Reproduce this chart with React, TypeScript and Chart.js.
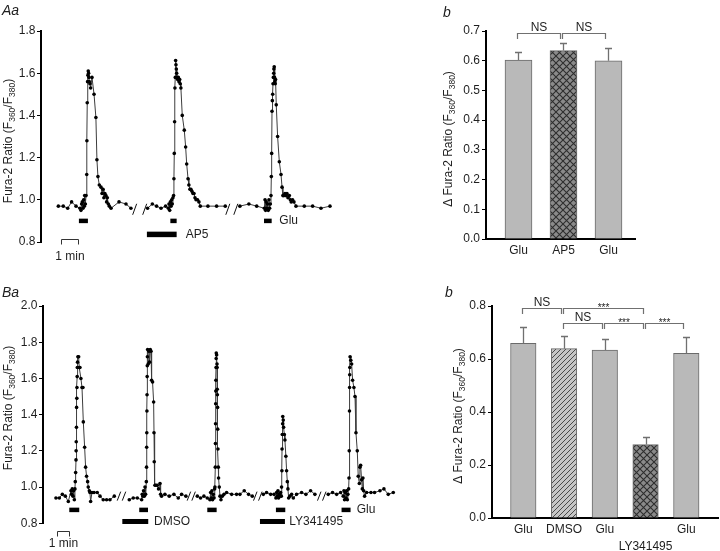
import React, { useEffect, useRef } from 'react';
import { Chart, registerables } from 'chart.js';

Chart.register(...registerables);

const FONT = '"Liberation Sans", Arial, Helvetica, sans-serif';
const INK = '#1e1e1e';
const SCALE_BAR_MIN = 1;

// ---------- Panel Aa : Fura-2 ratio trace (time in min, null = axis break)
const aaTime = [
  0.08, 0.37, 0.63, 0.86, 1.12, 1.35, 1.41, 1.45, 1.49, 1.53, 1.57, 1.61, 1.63, 1.67, 1.71, 1.75, 1.76, 1.78, 1.80, 1.82,
  1.84, 1.86, 1.88, 1.90, 1.94, 1.98, 2.06, 2.18, 2.29, 2.35, 2.41, 2.49, 2.59, 2.65, 2.71, 2.76, 2.82, 2.88, 2.92, 2.96,
  3.02, 3.08, 3.18, 3.65, 4.06, 4.35,
  4.8,
  5.33, 5.61, 5.86, 6.12, 6.39, 6.55, 6.59, 6.63, 6.67, 6.71, 6.75, 6.78, 6.82, 6.86, 6.88, 6.90, 6.92, 6.94, 6.96, 6.98,
  7.00, 7.02, 7.04, 7.06, 7.10, 7.14, 7.18, 7.22, 7.25, 7.29, 7.37, 7.49, 7.57, 7.63, 7.71, 7.76, 7.82, 7.88, 7.94, 8.00,
  8.06, 8.12, 8.18, 8.27, 8.35, 8.43, 8.88, 9.39, 9.90,
  10.3,
  10.76, 11.29, 11.75, 12.20, 12.24, 12.27, 12.31, 12.35, 12.39, 12.43, 12.47, 12.51, 12.55, 12.59, 12.61, 12.63, 12.65,
  12.67, 12.69, 12.71, 12.73, 12.75, 12.76, 12.78, 12.80, 12.82, 12.84, 12.86, 12.90, 12.98, 13.08, 13.18, 13.24, 13.29,
  13.35, 13.41, 13.47, 13.53, 13.59, 13.67, 13.73, 13.78, 13.86, 13.94, 14.06, 14.55, 15.04, 15.53, 16.06,
];
const aaRatio = [
  0.97, 0.97, 0.96, 0.99, 0.97, 0.96, 0.95, 0.98, 0.99, 0.96, 1.00, 0.97, 1.02, 0.98, 1.02, 1.12, 1.28, 1.46, 1.56, 1.59,
  1.61, 1.60, 1.58, 1.56, 1.55, 1.53, 1.58, 1.50, 1.39, 1.19, 1.11, 1.07, 1.06, 1.03, 1.05, 1.01, 1.03, 1.02, 0.99, 1.01,
  0.98, 0.97, 0.96, 0.99, 0.98, 0.96,
  null,
  0.96, 0.98, 0.97, 0.96, 0.97, 0.96, 0.98, 0.95, 0.99, 0.97, 1.00, 0.98, 1.01, 1.02, 1.10, 1.22, 1.37, 1.53, 1.58, 1.66,
  1.64, 1.62, 1.60, 1.58, 1.57, 1.58, 1.56, 1.57, 1.55, 1.53, 1.40, 1.33, 1.25, 1.17, 1.10, 1.07, 1.05, 1.05, 1.04, 1.03,
  1.03, 1.01, 1.00, 1.00, 0.99, 0.97, 0.97, 0.97, 0.97,
  null,
  0.97, 0.98, 0.97, 0.96, 1.00, 0.95, 0.99, 0.96, 0.98, 0.95, 1.00, 0.96, 0.98, 1.02, 1.11, 1.22, 1.42,
  1.47, 1.50, 1.55, 1.58, 1.60, 1.62, 1.63, 1.58, 1.56, 1.55, 1.57, 1.45, 1.30, 1.18, 1.12, 1.06, 1.02,
  1.02, 1.03, 1.02, 1.03, 1.01, 1.02, 1.00, 0.99, 1.00, 0.99, 0.97, 0.97, 0.97, 0.96, 0.97,
];
const aaBreaks = [4.57, 5.16, 10.05, 10.52];
const aaGluOn = [1.29, 6.67, 12.18];
const aaGluOff = [1.82, 7.04, 12.63];
const aaAp5 = [5.29, 7.04];

// ---------- Panel Ab : mean peak amplitude
const abLabels = ['Glu', 'AP5', 'Glu'];
const abMean = [0.602, 0.634, 0.6];
const abSem = [0.028, 0.024, 0.043];
const abBracketFrom = [0, 1];
const abBracketTo = [1, 2];
const abBracketLevel = [0.694, 0.694];
const abBracketText = ['NS', 'NS'];

// ---------- Panel Ba : Fura-2 ratio trace
const baTime = [
  -0.11, 0.17, 0.42, 0.67, 0.92, 1.14, 1.19, 1.25, 1.31, 1.36, 1.42, 1.47, 1.50, 1.53, 1.56, 1.57, 1.58, 1.60, 1.61, 1.63,
  1.64, 1.66, 1.67, 1.69, 1.72, 1.78, 1.83, 1.89, 1.97, 2.06, 2.14, 2.17, 2.28, 2.36, 2.44, 2.53, 2.58, 2.67, 2.72, 2.78,
  2.89, 3.06, 3.33, 3.56, 3.83, 4.11, 4.39, 4.75,
  5.35,
  6.00, 6.33, 6.67, 7.03, 7.08, 7.14, 7.19, 7.25, 7.31, 7.36, 7.42, 7.44, 7.45, 7.46, 7.47, 7.48, 7.49, 7.50, 7.51, 7.53,
  7.58, 7.64, 7.69, 7.75, 7.81, 7.86, 7.94, 8.03, 8.06, 8.08, 8.14, 8.22, 8.33, 8.44, 8.56, 8.61, 8.69, 8.97, 9.33, 9.72,
  10.08, 10.36, 10.72,
  11.15,
  11.67, 11.94, 12.22, 12.50, 12.72, 12.78, 12.83, 12.89, 12.94, 13.00, 13.06, 13.11, 13.14, 13.17, 13.18, 13.19, 13.20,
  13.21, 13.22, 13.23, 13.24, 13.25, 13.28, 13.31, 13.32, 13.33, 13.34, 13.36, 13.37, 13.39, 13.42, 13.44, 13.50, 13.56,
  13.64, 13.75, 13.89, 14.11, 14.53, 14.94, 15.22, 15.58, 15.94, 16.25,
  16.7,
  17.17, 17.44, 17.78, 18.06, 18.22, 18.28, 18.33, 18.39, 18.44, 18.50, 18.56, 18.61, 18.67, 18.69, 18.72, 18.73, 18.75,
  18.78, 18.79, 18.83, 18.86, 18.92, 18.97, 19.05, 19.11, 19.17, 19.22, 19.28, 19.39, 19.53, 19.67, 19.94, 20.36, 20.72,
  21.11, 21.47,
  22.0,
  22.58, 22.94, 23.28, 23.61, 23.83, 23.89, 23.94, 24.00, 24.06, 24.11, 24.17, 24.22, 24.28, 24.31, 24.33, 24.35, 24.36,
  24.37, 24.38, 24.40, 24.46, 24.53, 24.61, 24.72, 24.81, 24.89, 25.00, 25.08, 25.17, 25.22, 25.28, 25.36, 25.42, 25.47,
  25.53, 25.61, 25.78, 26.14, 26.44, 26.89, 27.22, 27.58, 28.00,
];
const baRatio = [
  0.94, 0.94, 0.96, 0.95, 0.92, 0.98, 0.96, 0.99, 0.95, 0.98, 0.93, 0.99, 1.03, 1.08, 1.15, 1.20, 1.25, 1.33, 1.44, 1.49,
  1.55, 1.61, 1.66, 1.69, 1.72, 1.72, 1.66, 1.66, 1.60, 1.55, 1.55, 1.36, 1.22, 1.11, 1.06, 1.03, 1.00, 0.98, 0.97, 0.92,
  0.97, 0.97, 0.97, 0.95, 0.93, 0.93, 0.93, 0.95,
  null,
  0.93, 0.94, 0.94, 0.93, 0.96, 0.95, 0.98, 0.95, 1.00, 0.96, 1.03, 1.11, 1.22, 1.30, 1.42, 1.51, 1.61, 1.67, 1.72, 1.76,
  1.68, 1.75, 1.69, 1.76, 1.75, 1.59, 1.58, 1.47, 1.30, 1.14, 1.01, 1.01, 1.01, 0.99, 1.02, 0.96, 0.95, 0.96, 0.95, 0.96,
  0.94, 0.96, 0.95,
  null,
  0.95, 0.94, 0.95, 0.94, 0.93, 0.97, 0.94, 0.98, 0.93, 0.96, 0.94, 0.99, 1.00, 1.11, 1.24, 1.35, 1.46,
  1.53, 1.59, 1.66, 1.71, 1.74, 1.73, 1.68, 1.66, 1.54, 1.51, 1.44, 1.32, 1.21, 1.11, 1.05, 1.00, 0.95,
  0.93, 0.95, 0.96, 0.97, 0.96, 0.96, 0.96, 0.98, 0.96, 0.95,
  null,
  0.96, 0.97, 0.96, 0.96, 0.94, 0.97, 0.95, 0.98, 0.94, 0.96, 0.95, 0.97, 0.95, 1.00, 1.09, 1.21, 1.29,
  1.35, 1.39, 1.37, 1.33, 1.29, 1.26, 1.17, 1.09, 1.03, 0.99, 0.94, 0.95, 0.96, 0.94, 0.96, 0.97, 0.96,
  0.98, 0.96,
  null,
  0.96, 0.97, 0.96, 0.97, 0.95, 0.98, 0.93, 0.97, 0.94, 0.98, 0.93, 0.96, 0.99, 1.05, 1.20, 1.42, 1.55,
  1.62, 1.66, 1.72, 1.70, 1.68, 1.59, 1.55, 1.50, 1.30, 1.20, 1.06, 1.02, 1.11, 1.12, 1.04, 0.99, 1.05,
  0.98, 0.95, 0.97, 0.97, 0.97, 0.98, 0.99, 0.96, 0.97,
];
const baBreaks = [5.14, 5.56, 10.97, 11.36, 16.5, 16.92, 21.83, 22.25];
const baGluOn = [1.0, 6.83, 12.5, 18.22, 23.69];
const baGluOff = [1.83, 7.56, 13.28, 19.0, 24.44];
const baDmso = [5.42, 7.58];
const baLy = [16.89, 18.97];

// ---------- Panel Bb : mean peak amplitude
const bbLabels = [['Glu'], ['DMSO'], ['Glu'], ['', 'LY341495'], ['Glu']];
const bbMean = [0.659, 0.639, 0.634, 0.277, 0.621];
const bbSem = [0.063, 0.049, 0.041, 0.03, 0.061];
const bbBracketFrom = [0, 1, 1, 2, 3];
const bbBracketTo = [1, 3, 2, 3, 4];
const bbBracketLevel = [0.794, 0.794, 0.737, 0.737, 0.737];
const bbBracketText = ['NS', '***', 'NS', '***', '***'];

// ---------- helpers
function drawYTitle(ctx: CanvasRenderingContext2D, cx: number, cy: number, delta: boolean) {
  const size = 12;
  const sub = 8.5;
  const parts = [
    { t: (delta ? '\u0394 ' : '') + 'Fura-2 Ratio (F', s: false },
    { t: '360', s: true },
    { t: '/F', s: false },
    { t: '380', s: true },
    { t: ')', s: false },
  ];
  ctx.save();
  ctx.translate(cx, cy);
  ctx.rotate(-Math.PI / 2);
  let total = 0;
  const w = parts.map((p) => {
    ctx.font = `${p.s ? sub : size}px ${FONT}`;
    const m = ctx.measureText(p.t).width;
    total += m;
    return m;
  });
  let x = -total / 2;
  ctx.fillStyle = INK;
  ctx.textBaseline = 'alphabetic';
  ctx.textAlign = 'left';
  parts.forEach((p, i) => {
    ctx.font = `${p.s ? sub : size}px ${FONT}`;
    ctx.fillText(p.t, x, p.s ? 7 : 4.3);
    x += w[i];
  });
  ctx.restore();
}

function drawPanelLabel(ctx: CanvasRenderingContext2D, text: string, x: number, y: number) {
  ctx.save();
  ctx.font = `italic 14px ${FONT}`;
  ctx.fillStyle = INK;
  ctx.textAlign = 'left';
  ctx.textBaseline = 'alphabetic';
  ctx.fillText(text, x, y);
  ctx.restore();
}

function makePatternCross() {
  const s = 7;
  const c = document.createElement('canvas');
  c.width = s;
  c.height = s;
  const g = c.getContext('2d')!;
  g.fillStyle = '#8a8a8a';
  g.fillRect(0, 0, s, s);
  g.strokeStyle = '#2e2e2e';
  g.lineWidth = 1.1;
  g.beginPath();
  g.moveTo(0, 0);
  g.lineTo(s, s);
  g.moveTo(s, 0);
  g.lineTo(0, s);
  g.stroke();
  return g.createPattern(c, 'repeat')!;
}

function makePatternDiag() {
  const s = 5;
  const c = document.createElement('canvas');
  c.width = s;
  c.height = s;
  const g = c.getContext('2d')!;
  g.fillStyle = '#c6c6c6';
  g.fillRect(0, 0, s, s);
  g.strokeStyle = '#4a4a4a';
  g.lineWidth = 1;
  g.beginPath();
  for (const o of [-s, 0, s]) {
    g.moveTo(o - 1, s + 1);
    g.lineTo(o + s + 1, -1);
  }
  g.stroke();
  return g.createPattern(c, 'repeat')!;
}

type Stim = { on: number; off: number; level: number; thick: number };
type TraceAnno = {
  id: string;
  breaks: number[];
  breakLevel: number;
  slashW: number;
  slashH: number;
  bars: Stim[];
  labels: { text: string; t: number; level: number }[];
  scaleStart: number;
  scaleLevel: number;
  scaleTextGap: number;
  titleX: number;
  titleY: number;
  panel: string;
  panelX: number;
  panelY: number;
};

function tracePlugin(a: TraceAnno) {
  return {
    id: a.id,
    afterDraw(chart: any) {
      const ctx: CanvasRenderingContext2D = chart.ctx;
      const xs = chart.scales.x;
      const ys = chart.scales.y;
      ctx.save();
      ctx.strokeStyle = '#111';
      ctx.lineWidth = 1;
      for (const b of a.breaks) {
        const px = xs.getPixelForValue(b);
        const py = ys.getPixelForValue(a.breakLevel);
        ctx.beginPath();
        ctx.moveTo(px - a.slashW / 2, py + a.slashH / 2);
        ctx.lineTo(px + a.slashW / 2, py - a.slashH / 2);
        ctx.stroke();
      }
      ctx.fillStyle = '#000';
      for (const s of a.bars) {
        const x0 = xs.getPixelForValue(s.on);
        const x1 = xs.getPixelForValue(s.off);
        const y = ys.getPixelForValue(s.level);
        ctx.fillRect(x0, y - s.thick / 2, x1 - x0, s.thick);
      }
      ctx.font = `12px ${FONT}`;
      ctx.fillStyle = INK;
      ctx.textBaseline = 'middle';
      ctx.textAlign = 'left';
      for (const l of a.labels) {
        ctx.fillText(l.text, xs.getPixelForValue(l.t), ys.getPixelForValue(l.level));
      }
      const sx0 = Math.round(xs.getPixelForValue(a.scaleStart)) + 0.5;
      const sx1 = Math.round(xs.getPixelForValue(a.scaleStart + SCALE_BAR_MIN)) + 0.5;
      const sy = Math.round(ys.getPixelForValue(a.scaleLevel)) + 0.5;
      ctx.strokeStyle = '#333';
      ctx.beginPath();
      ctx.moveTo(sx0, sy + 5);
      ctx.lineTo(sx0, sy);
      ctx.lineTo(sx1, sy);
      ctx.lineTo(sx1, sy + 5);
      ctx.stroke();
      ctx.textAlign = 'center';
      ctx.fillText(`${SCALE_BAR_MIN} min`, (sx0 + sx1) / 2, sy + a.scaleTextGap);
      ctx.restore();
      drawYTitle(ctx, a.titleX, a.titleY, false);
      drawPanelLabel(ctx, a.panel, a.panelX, a.panelY);
    },
  };
}

type BarAnno = {
  id: string;
  means: number[];
  sems: number[];
  from: number[];
  to: number[];
  level: number[];
  text: string[];
  titleX: number;
  titleY: number;
  panel: string;
  panelX: number;
  panelY: number;
};

function barPlugin(a: BarAnno) {
  return {
    id: a.id,
    afterDatasetsDraw(chart: any) {
      const ctx: CanvasRenderingContext2D = chart.ctx;
      const xs = chart.scales.x;
      const ys = chart.scales.y;
      ctx.save();
      ctx.strokeStyle = '#707070';
      ctx.lineWidth = 1.3;
      a.means.forEach((m, i) => {
        const x = Math.round(xs.getPixelForValue(i)) + 0.5;
        const y0 = ys.getPixelForValue(m);
        const y1 = Math.round(ys.getPixelForValue(m + a.sems[i])) + 0.5;
        ctx.beginPath();
        ctx.moveTo(x, y0);
        ctx.lineTo(x, y1);
        ctx.moveTo(x - 3.5, y1);
        ctx.lineTo(x + 3.5, y1);
        ctx.stroke();
      });
      ctx.restore();
    },
    afterDraw(chart: any) {
      const ctx: CanvasRenderingContext2D = chart.ctx;
      const xs = chart.scales.x;
      const ys = chart.scales.y;
      ctx.save();
      ctx.strokeStyle = '#707070';
      ctx.lineWidth = 1.2;
      ctx.fillStyle = INK;
      ctx.textAlign = 'center';
      ctx.textBaseline = 'alphabetic';
      a.from.forEach((f, i) => {
        const xl = Math.round(xs.getPixelForValue(f) - 1) + 0.5;
        const xr = Math.round(xs.getPixelForValue(a.to[i]) - 3) + 0.5;
        const y = Math.round(ys.getPixelForValue(a.level[i])) + 0.5;
        ctx.beginPath();
        ctx.moveTo(xl, y + 5.5);
        ctx.lineTo(xl, y);
        ctx.lineTo(xr, y);
        ctx.lineTo(xr, y + 5.5);
        ctx.stroke();
        const star = a.text[i].startsWith('*');
        ctx.font = `${star ? 10 : 12}px ${FONT}`;
        ctx.fillText(a.text[i], (xl + xr) / 2, star ? y + 2 : y - 2.7);
      });
      ctx.restore();
      drawYTitle(ctx, a.titleX, a.titleY, true);
      drawPanelLabel(ctx, a.panel, a.panelX, a.panelY);
    },
  };
}

const tickFont = { family: FONT, size: 12 };

function traceConfig(
  time: number[],
  ratio: (number | null)[],
  yMin: number,
  yMax: number,
  xMin: number,
  xMax: number,
  axisW: number,
  pad: { top: number; bottom: number; right: number },
  tickPad: number,
  plugin: any
) {
  return {
    type: 'scatter',
    data: {
      datasets: [
        {
          data: time.map((t, i) => ({ x: t, y: ratio[i] })),
          showLine: true,
          spanGaps: false,
          borderColor: '#3c3c3c',
          borderWidth: 1,
          tension: 0,
          pointRadius: 1.8,
          pointBackgroundColor: '#000',
          pointBorderColor: '#000',
          pointBorderWidth: 0,
        },
      ],
    },
    options: {
      animation: false,
      responsive: false,
      events: [],
      layout: { padding: { left: 0, top: pad.top, right: pad.right, bottom: pad.bottom } },
      plugins: { legend: { display: false }, tooltip: { enabled: false } },
      scales: {
        x: { type: 'linear', display: false, min: xMin, max: xMax },
        y: {
          min: yMin,
          max: yMax,
          afterFit: (s: any) => {
            s.width = axisW;
          },
          ticks: {
            stepSize: 0.2,
            callback: (v: any) => Number(v).toFixed(1),
            font: tickFont,
            color: INK,
            padding: tickPad,
          },
          grid: { drawOnChartArea: false, tickLength: 4, tickColor: '#000', tickWidth: 1 },
          border: { color: '#000', width: 2 },
        },
      },
    },
    plugins: [plugin],
  };
}

function barConfig(
  labels: (string | string[])[],
  means: number[],
  fills: any[],
  thickness: number,
  xMin: number,
  xMax: number,
  yMax: number,
  yStep: number,
  axisW: number,
  axisH: number,
  pad: { top: number; right: number },
  plugin: any
) {
  return {
    type: 'bar',
    data: {
      datasets: [
        {
          data: means.map((m, i) => ({ x: i, y: m })),
          backgroundColor: fills,
          borderColor: '#6a6a6a',
          borderWidth: 1,
          barThickness: thickness,
        },
      ],
    },
    options: {
      animation: false,
      responsive: false,
      events: [],
      layout: { padding: { left: 0, top: pad.top, right: pad.right, bottom: 0 } },
      plugins: { legend: { display: false }, tooltip: { enabled: false } },
      scales: {
        x: {
          type: 'linear',
          min: xMin,
          max: xMax,
          offset: false,
          afterBuildTicks: (ax: any) => {
            ax.ticks = labels.map((_, i) => ({ value: i }));
          },
          afterFit: (s: any) => {
            s.height = axisH;
          },
          ticks: {
            callback: (v: any) => labels[Math.round(Number(v))],
            autoSkip: false,
            maxRotation: 0,
            minRotation: 0,
            padding: 3,
            font: { ...tickFont, lineHeight: 1.4 },
            color: INK,
          },
          grid: { display: false, drawTicks: false, offset: false },
          border: { color: '#000', width: 2 },
        },
        y: {
          min: 0,
          max: yMax,
          afterFit: (s: any) => {
            s.width = axisW;
          },
          ticks: {
            stepSize: yStep,
            callback: (v: any) => Number(v).toFixed(1),
            font: tickFont,
            color: INK,
            padding: 2,
          },
          grid: { drawOnChartArea: false, tickLength: 4, tickColor: '#000', tickWidth: 1 },
          border: { color: '#000', width: 2 },
        },
      },
    },
    plugins: [plugin],
  };
}

function ChartBox(props: { left: number; top: number; width: number; height: number; build: () => any }) {
  const ref = useRef<HTMLCanvasElement>(null);
  useEffect(() => {
    const chart = new Chart(ref.current as HTMLCanvasElement, props.build());
    return () => chart.destroy();
  }, []);
  return (
    <canvas
      ref={ref}
      width={props.width}
      height={props.height}
      style={{ position: 'absolute', left: props.left, top: props.top, width: props.width, height: props.height }}
    />
  );
}

function buildAa() {
  const bars: Stim[] = aaGluOn.map((on, i) => ({ on, off: aaGluOff[i], level: 0.9, thick: 4.5 }));
  bars.push({ on: aaAp5[0], off: aaAp5[1], level: 0.836, thick: 5.5 });
  const plugin = tracePlugin({
    id: 'aaAnno',
    breaks: aaBreaks,
    breakLevel: 0.955,
    slashW: 4,
    slashH: 11,
    bars,
    labels: [
      { text: 'Glu', t: 13.08, level: 0.9 },
      { text: 'AP5', t: 7.57, level: 0.836 },
    ],
    scaleStart: 0.22,
    scaleLevel: 0.814,
    scaleTextGap: 17,
    titleX: 8,
    titleY: 141,
    panel: 'Aa',
    panelX: 2,
    panelY: 15,
  });
  return traceConfig(aaTime, aaRatio, 0.8, 1.8, -0.94, 16.65, 41, { top: 31, bottom: 33, right: 15 }, 1.5, plugin);
}

function buildBa() {
  const bars: Stim[] = baGluOn.map((on, i) => ({ on, off: baGluOff[i], level: 0.874, thick: 4.5 }));
  bars.push({ on: baDmso[0], off: baDmso[1], level: 0.81, thick: 5 });
  bars.push({ on: baLy[0], off: baLy[1], level: 0.81, thick: 5 });
  const plugin = tracePlugin({
    id: 'baAnno',
    breaks: baBreaks,
    breakLevel: 0.95,
    slashW: 3.5,
    slashH: 9,
    bars,
    labels: [
      { text: 'DMSO', t: 8.06, level: 0.81 },
      { text: 'LY341495', t: 19.33, level: 0.81 },
      { text: 'Glu', t: 24.95, level: 0.874 },
    ],
    scaleStart: 0,
    scaleLevel: 0.758,
    scaleTextGap: 12,
    titleX: 8,
    titleY: 128,
    panel: 'Ba',
    panelX: 2,
    panelY: 17,
  });
  return traceConfig(baTime, baRatio, 0.8, 2.0, -1.19, 28.56, 43, { top: 26, bottom: 27.7, right: 5 }, 1.5, plugin);
}

function buildAb() {
  const glu = '#b9b9b9';
  const plugin = barPlugin({
    id: 'abAnno',
    means: abMean,
    sems: abSem,
    from: abBracketFrom,
    to: abBracketTo,
    level: abBracketLevel,
    text: abBracketText,
    titleX: 88,
    titleY: 139,
    panel: 'b',
    panelX: 83,
    panelY: 17,
  });
  return barConfig(abLabels, abMean, [glu, makePatternCross(), glu], 27, -0.722, 2.589, 0.7, 0.1, 126, 41, { top: 31, right: 85 }, plugin);
}

function buildBb() {
  const glu = '#b9b9b9';
  const plugin = barPlugin({
    id: 'bbAnno',
    means: bbMean,
    sems: bbSem,
    from: bbBracketFrom,
    to: bbBracketTo,
    level: bbBracketLevel,
    text: bbBracketText,
    titleX: 98,
    titleY: 136,
    panel: 'b',
    panelX: 85,
    panelY: 17,
  });
  return barConfig(
    bbLabels,
    bbMean,
    [glu, makePatternDiag(), glu, makePatternCross(), glu],
    25.5,
    -0.768,
    4.778,
    0.8,
    0.2,
    132,
    33,
    { top: 26, right: 2 },
    plugin
  );
}

export default function App() {
  return (
    <div style={{ position: 'fixed', left: 0, top: 0, width: 720, height: 551, background: '#fff', overflow: 'hidden' }}>
      <ChartBox left={0} top={0} width={355} height={275} build={buildAa} />
      <ChartBox left={360} top={0} width={360} height={280} build={buildAb} />
      <ChartBox left={0} top={280} width={405} height={271} build={buildBa} />
      <ChartBox left={360} top={280} width={360} height={271} build={buildBb} />
    </div>
  );
}
